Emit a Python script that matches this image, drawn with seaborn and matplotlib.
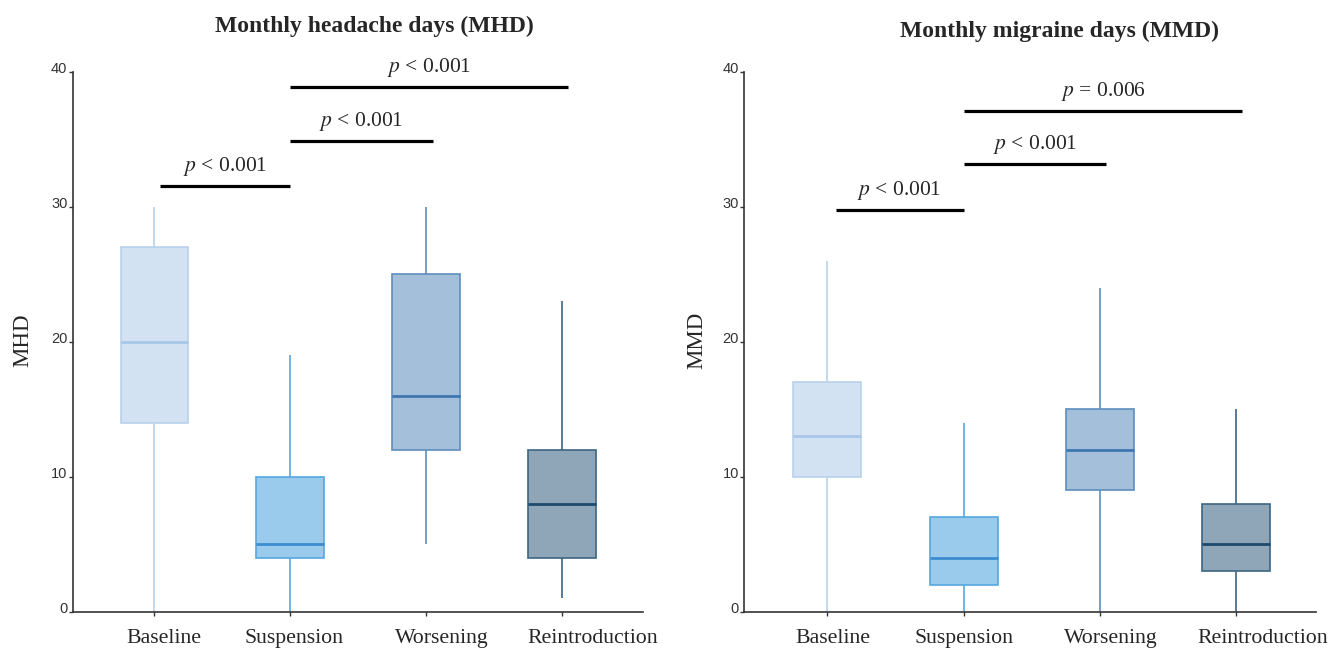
import numpy as np
import pandas as pd
import matplotlib
matplotlib.use("Agg")
import matplotlib.pyplot as plt
import matplotlib.transforms as mtransforms
import seaborn as sns

# fases
fases = ["Baseline", "Suspension", "Worsening", "Reintroduction"]

# min, Q1, mediana, Q3, max
mhd_baseline = [0, 14, 20, 27, 30]
mhd_suspension = [0, 4, 5, 10, 19]
mhd_worsening = [5, 12, 16, 25, 30]
mhd_reintroduction = [1, 4, 8, 12, 23]

mmd_baseline = [0, 10, 13, 17, 26]
mmd_suspension = [0, 2, 4, 7, 14]
mmd_worsening = [0, 9, 12, 15, 24]
mmd_reintroduction = [0, 3, 5, 8, 15]

# comparacoes: (grupo1, grupo2, altura, texto)
comp_mhd = [(0, 1, 31.55, "$p$ < 0.001"),
            (1, 2, 34.9, "$p$ < 0.001"),
            (1, 3, 38.85, "$p$ < 0.001")]
comp_mmd = [(0, 1, 29.8, "$p$ < 0.001"),
            (1, 2, 33.2, "$p$ < 0.001"),
            (1, 3, 37.1, "$p$ = 0.006")]

fill_cols = ["#d3e2f3", "#9acbec", "#a4bfd9", "#8fa6b8"]
edge_cols = ["#b9d1eb", "#56a8e0", "#5e8dbf", "#3d6583"]
med_cols = ["#a8c7e8", "#3b8dd0", "#3f76b0", "#1d4a6c"]

# deslocamento horizontal dos rotulos do eixo x (px)
desloc_mhd = [9, 4, 16, 31]
desloc_mmd = [5, 0, 11, 27]

sns.set_theme(style="white")
plt.rcParams["mathtext.fontset"] = "stix"
SERIF = ["Liberation Serif", "DejaVu Serif"]


def monta_df(listas):
    linhas = []
    for fase, vals in zip(fases, listas):
        for v in vals:
            linhas.append({"fase": fase, "dias": v})
    return pd.DataFrame(linhas)


df_mhd = monta_df([mhd_baseline, mhd_suspension, mhd_worsening, mhd_reintroduction])
df_mmd = monta_df([mmd_baseline, mmd_suspension, mmd_worsening, mmd_reintroduction])

fig = plt.figure(figsize=(13.28, 6.5), dpi=100)
ax1 = fig.add_axes([0.055, 0.0585, 0.4292, 0.8308])
ax2 = fig.add_axes([0.5606, 0.0585, 0.4303, 0.8308])


def desenha(ax, df, comps, xlim, desloc, ini):
    for i, fase in enumerate(fases):
        sub = df[df["fase"] == fase]
        sns.boxplot(data=sub, x="fase", y="dias", order=fases, ax=ax,
                    color=fill_cols[i], linecolor=edge_cols[i], saturation=1,
                    width=0.5, whis=(0, 100), showcaps=False, linewidth=1.2,
                    medianprops=dict(color=med_cols[i], linewidth=2))
    ax.set_xlim(*xlim)
    ax.set_ylim(0, 40)
    ax.set_yticks([0, 10, 20, 30, 40])
    ax.set_xlabel("")
    ax.set_ylabel("")
    for s in ["top", "right"]:
        ax.spines[s].set_visible(False)
    for s in ["left", "bottom"]:
        ax.spines[s].set_color("#333333")
        ax.spines[s].set_linewidth(1.2)
    ax.tick_params(axis="y", left=True, length=3, width=1, color="#333333",
                   pad=1, labelsize=10.5, labelcolor="#333333")
    ax.tick_params(axis="x", bottom=True, length=3, width=1, color="#333333",
                   pad=9, labelsize=15.7)
    for lab, d in zip(ax.get_xticklabels(), desloc):
        lab.set_family(SERIF)
        lab.set_transform(lab.get_transform() +
                          mtransforms.ScaledTranslation(d / 100, 0, fig.dpi_scale_trans))
    off = mtransforms.ScaledTranslation(0, 4 / 100, fig.dpi_scale_trans)
    for lab in ax.get_yticklabels():
        lab.set_family(["Liberation Sans", "DejaVu Sans"])
        lab.set_transform(lab.get_transform() + off)
    for k, (a, b, y, txt) in enumerate(comps):
        x1 = a + (ini if a == 0 else 0.0)
        x2 = b + (0.0 if b == 1 else 0.05)
        ax.plot([x1, x2], [y, y], color="black", lw=2.3, clip_on=False,
                solid_capstyle="butt")
        ax.text((x1 + x2) / 2, y + 1.45, txt, ha="center", va="center",
                fontsize=15.5, family=SERIF, clip_on=False)


desenha(ax1, df_mhd, comp_mhd, (-0.6, 3.6), desloc_mhd, 0.04)
desenha(ax2, df_mmd, comp_mmd, (-0.61, 3.59), desloc_mmd, 0.06)

fig.text(374 / 1328, 1 - 26 / 650, "Monthly headache days (MHD)", ha="center",
         va="center", fontsize=17, fontweight="bold", family=SERIF)
fig.text(1060 / 1328, 1 - 31 / 650, "Monthly migraine days (MMD)", ha="center",
         va="center", fontsize=17, fontweight="bold", family=SERIF)
fig.text(23 / 1328, 1 - 340 / 650, "MHD", rotation=90, ha="center", va="center",
         fontsize=16.5, family=SERIF)
fig.text(697 / 1328, 1 - 340 / 650, "MMD", rotation=90, ha="center", va="center",
         fontsize=16.5, family=SERIF)

fig.savefig("out.png", dpi=100)
